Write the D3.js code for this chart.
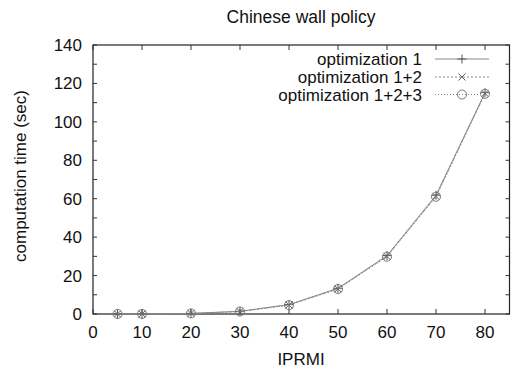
<!DOCTYPE html>
<html>
<head>
<meta charset="utf-8">
<script src="https://cdn.jsdelivr.net/npm/d3@7"></script>
<style>
body { margin: 0; background: #fff; }
text { font-family: "Liberation Sans", Arial, Helvetica, sans-serif; fill: #111; }
</style>
</head>
<body>
<svg id="chart"></svg>
<script>
// values
var xs = [5, 10, 20, 30, 40, 50, 60, 70, 80];
var opt1 = [0.02, 0.05, 0.3, 1.4, 4.9, 13.4, 30.4, 61.8, 115.2];
var opt12 = [0.02, 0.05, 0.3, 1.3, 4.7, 13.1, 30.0, 61.2, 114.8];
var opt123 = [0.02, 0.05, 0.3, 1.3, 4.6, 13.0, 29.8, 61.0, 114.6];
var seriesNames = ["optimization 1", "optimization 1+2", "optimization 1+2+3"];
var xTicks = [0, 10, 20, 30, 40, 50, 60, 70, 80];
var yTicks = [0, 20, 40, 60, 80, 100, 120, 140];

var width = 513, height = 369;
var svg = d3.select("#chart").attr("width", width).attr("height", height);

// plot box
var pLeft = 93, pRight = 509.5, pTop = 45, pBottom = 314;

var x = d3.scaleLinear().domain([0, 85]).range([pLeft, pRight]);
var y = d3.scaleLinear().domain([0, 140]).range([pBottom, pTop]);

// frame
svg.append("rect")
  .attr("x", pLeft).attr("y", pTop)
  .attr("width", pRight - pLeft).attr("height", pBottom - pTop)
  .attr("fill", "none").attr("stroke", "#222").attr("stroke-width", 1.2);

// ticks (inside, mirrored like gnuplot)
var tk = svg.append("g").attr("stroke", "#333").attr("stroke-width", 1);
xTicks.forEach(function(t) {
  tk.append("line").attr("x1", x(t)).attr("x2", x(t)).attr("y1", pBottom).attr("y2", pBottom - 5);
  tk.append("line").attr("x1", x(t)).attr("x2", x(t)).attr("y1", pTop).attr("y2", pTop + 5);
});
d3.range(0, 141, 10).forEach(function(t) {
  tk.append("line").attr("x1", pLeft).attr("x2", pLeft + 4).attr("y1", y(t)).attr("y2", y(t));
  tk.append("line").attr("x1", pRight).attr("x2", pRight - 4).attr("y1", y(t)).attr("y2", y(t));
});

// tick labels
svg.append("g").selectAll("text").data(xTicks).enter().append("text")
  .attr("x", d => x(d)).attr("y", 338)
  .attr("text-anchor", "middle").style("font-size", "17px")
  .text(d => d);
svg.append("g").selectAll("text").data(yTicks).enter().append("text")
  .attr("x", 82).attr("y", d => y(d) + 6)
  .attr("text-anchor", "end").style("font-size", "17px")
  .text(d => d);

// titles
svg.append("text").attr("x", 301).attr("y", 23)
  .attr("text-anchor", "middle").style("font-size", "17.5px")
  .text("Chinese wall policy");
svg.append("text").attr("x", 301).attr("y", 365)
  .attr("text-anchor", "middle").style("font-size", "17px")
  .text("IPRMI");
svg.append("text")
  .attr("transform", "translate(26,176) rotate(-90)")
  .attr("text-anchor", "middle").style("font-size", "17px")
  .text("computation time (sec)");

var series = [
  { name: seriesNames[0], vals: opt1, dash: null, mark: "plus" },
  { name: seriesNames[1], vals: opt12, dash: "2,2", mark: "cross" },
  { name: seriesNames[2], vals: opt123, dash: "1,2", mark: "circle" }
];

var line = d3.line().x(d => x(d[0])).y(d => y(d[1]));

function drawMark(g, kind, cx, cy) {
  var s = 4.5;
  if (kind === "plus") {
    g.append("path").attr("d", "M" + (cx - s) + "," + cy + "H" + (cx + s) + "M" + cx + "," + (cy - s) + "V" + (cy + s))
      .attr("stroke", "#555").attr("fill", "none").attr("stroke-width", 1);
  } else if (kind === "cross") {
    var c = 3.6;
    g.append("path").attr("d", "M" + (cx - c) + "," + (cy - c) + "L" + (cx + c) + "," + (cy + c) +
        "M" + (cx - c) + "," + (cy + c) + "L" + (cx + c) + "," + (cy - c))
      .attr("stroke", "#666").attr("fill", "none").attr("stroke-width", 1);
  } else {
    g.append("circle").attr("cx", cx).attr("cy", cy).attr("r", 4.5)
      .attr("stroke", "#777").attr("fill", "none").attr("stroke-width", 1);
  }
}

series.forEach(function(s) {
  var pts = xs.map((v, i) => [v, s.vals[i]]);
  svg.append("path").datum(pts)
    .attr("d", line)
    .attr("fill", "none")
    .attr("stroke", "#888")
    .attr("stroke-width", 1)
    .attr("stroke-dasharray", s.dash);
  var g = svg.append("g");
  pts.forEach(function(p) { drawMark(g, s.mark, x(p[0]), y(p[1])); });
});

// legend
var legRows = [59, 77, 94.5];
series.forEach(function(s, i) {
  var ly = legRows[i];
  svg.append("text").attr("x", 422).attr("y", ly + 6)
    .attr("text-anchor", "end").style("font-size", "17px")
    .text(s.name);
  svg.append("line").attr("x1", 435).attr("x2", 489).attr("y1", ly).attr("y2", ly)
    .attr("stroke", "#888").attr("stroke-width", 1).attr("stroke-dasharray", s.dash);
  drawMark(svg.append("g"), s.mark, 462, ly);
});
</script>
</body>
</html>
